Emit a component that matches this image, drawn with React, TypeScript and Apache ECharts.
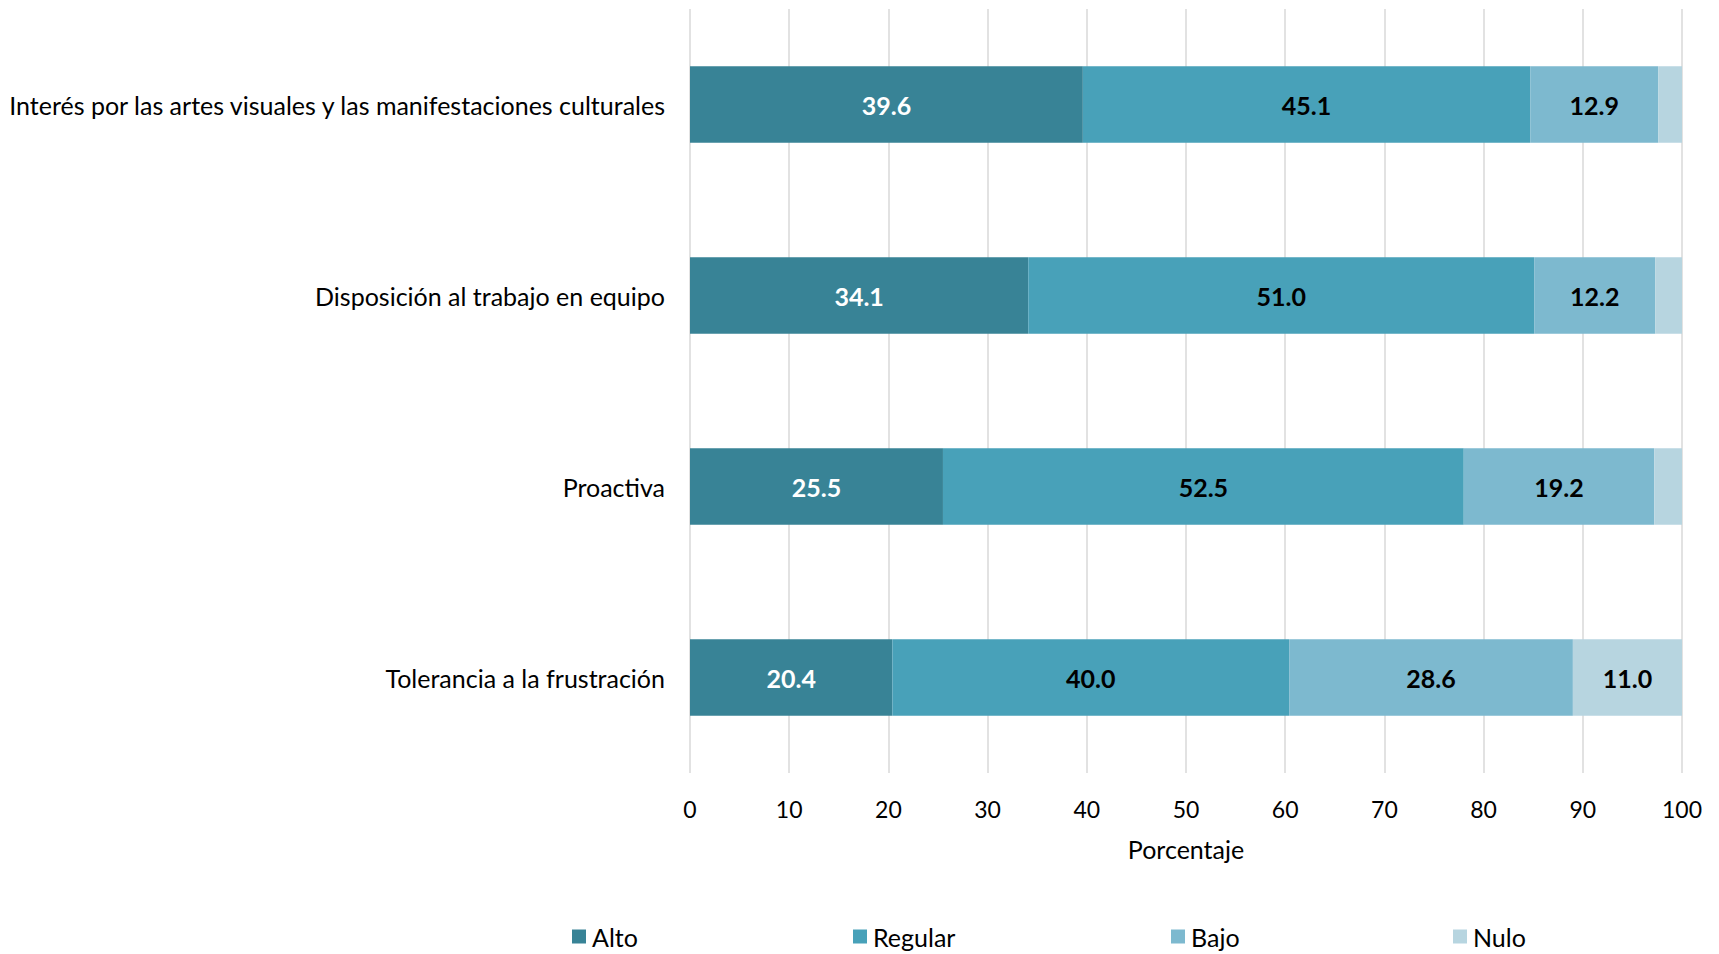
import React, { useEffect, useRef } from "react";
import * as echarts from "echarts";

const categories = [
  "Tolerancia a la frustración",
  "Proactiva",
  "Disposición al trabajo en equipo",
  "Interés por las artes visuales y las manifestaciones culturales",
];
const alto = [20.4, 25.5, 34.1, 39.6];
const regular = [40.0, 52.5, 51.0, 45.1];
const bajo = [28.6, 19.2, 12.2, 12.9];
const nulo = [11.0, 2.8, 2.7, 2.4];
const seriesNames = ["Alto", "Regular", "Bajo", "Nulo"];
const colors = ["#388396", "#48A1B9", "#7DB9CF", "#B7D5E0"];
const labelColors = ["#FFFFFF", "#000000", "#000000", "#000000"];
const legendLeft = [567, 848, 1166, 1448];

const FONT = "Lato, 'Open Sans', sans-serif";

export default function App() {
  const ref = useRef<HTMLDivElement>(null);
  useEffect(() => {
    if (!ref.current) return;
    document.body.style.margin = "0";
    document.body.style.overflow = "hidden";
    const chart = echarts.init(ref.current, undefined, { renderer: "svg" });
    const dataSets = [alto, regular, bajo, nulo];
    chart.setOption({
      animation: false,
      textStyle: { fontFamily: FONT },
      grid: { left: 690, right: 37, top: 9, bottom: 181, containLabel: false },
      legend: seriesNames.map((n, i) => ({
        data: [n],
        left: legendLeft[i],
        top: 919,
        icon: "rect",
        itemWidth: 14,
        itemHeight: 14,
        itemGap: 4,
        textStyle: { fontSize: 25, color: "#000", fontFamily: FONT, padding: [0, 0, 0, 1] },
        selectedMode: false,
      })),
      xAxis: {
        type: "value",
        min: 0,
        max: 100,
        interval: 10,
        name: "Porcentaje",
        nameLocation: "middle",
        nameGap: 63,
        nameTextStyle: { fontSize: 25, color: "#000", fontFamily: FONT },
        axisLine: { show: false },
        axisTick: { show: false },
        axisLabel: { fontSize: 23, color: "#000", margin: 24, fontFamily: FONT },
        splitLine: { show: true, lineStyle: { color: "#D9D9D9", width: 1.5 } },
      },
      yAxis: {
        type: "category",
        data: categories,
        axisLine: { show: false },
        axisTick: { show: false },
        axisLabel: { fontSize: 25, color: "#000", margin: 25, fontFamily: FONT, padding: [0, 0, 2, 0] },
      },
      series: seriesNames.map((n, i) => ({
        name: n,
        type: "bar",
        stack: "total",
        barWidth: "40%",
        data: dataSets[i],
        itemStyle: { color: colors[i] },
        label: {
          show: true,
          position: "inside",
          color: labelColors[i],
          fontWeight: "bold",
          fontSize: 25,
          fontFamily: FONT,
          formatter: (p: any) => (p.value < 5 ? "" : Number(p.value).toFixed(1)),
        },
      })),
    });
    return () => chart.dispose();
  }, []);
  return <div ref={ref} style={{ width: 1719, height: 954 }} />;
}
